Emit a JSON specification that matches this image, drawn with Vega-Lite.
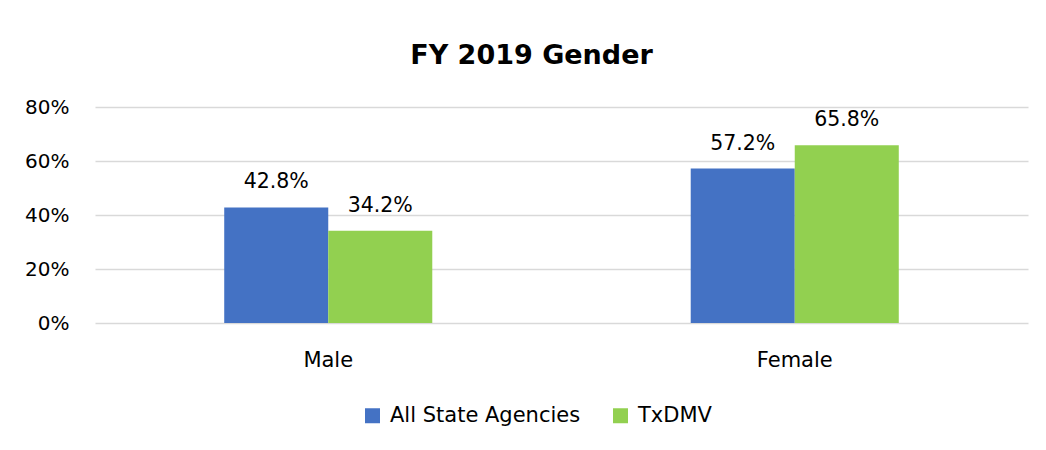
{
  "$schema": "https://vega.github.io/schema/vega-lite/v6.json",
  "autosize": {"type": "none"},
  "width": 933,
  "height": 216,
  "padding": {"left": 95, "top": 107, "right": 18, "bottom": 127},
  "background": "white",
  "title": {
    "text": "FY 2019 Gender",
    "font": "DejaVu Sans",
    "fontSize": 27,
    "fontWeight": "bold",
    "color": "#000000",
    "anchor": "middle",
    "dx": -30,
    "baseline": "alphabetic",
    "offset": 6
  },
  "data": {
    "values": [
      {"gender": "Male", "group": "All State Agencies", "pct": 0.428},
      {"gender": "Male", "group": "TxDMV", "pct": 0.342},
      {"gender": "Female", "group": "All State Agencies", "pct": 0.572},
      {"gender": "Female", "group": "TxDMV", "pct": 0.658}
    ]
  },
  "encoding": {
    "x": {
      "field": "gender",
      "type": "nominal",
      "sort": ["Male", "Female"],
      "scale": {"paddingInner": 0.554, "paddingOuter": 0.277},
      "axis": {
        "title": null,
        "labelAngle": 0,
        "domain": false,
        "ticks": false,
        "labelFont": "DejaVu Sans",
        "labelFontSize": 21,
        "labelColor": "#000000",
        "labelPadding": 26
      }
    },
    "xOffset": {
      "field": "group",
      "type": "nominal",
      "sort": ["All State Agencies", "TxDMV"],
      "scale": {"paddingInner": 0, "paddingOuter": 0}
    },
    "y": {
      "field": "pct",
      "type": "quantitative",
      "scale": {"domain": [0, 0.8], "nice": false},
      "axis": {
        "title": null,
        "values": [0, 0.2, 0.4, 0.6, 0.8],
        "format": ".0%",
        "domain": false,
        "ticks": false,
        "grid": true,
        "gridColor": "#D9D9D9",
        "gridWidth": 1.3,
        "labelFont": "DejaVu Sans",
        "labelFontSize": 20,
        "labelColor": "#000000",
        "labelPadding": 26
      }
    }
  },
  "layer": [
    {
      "mark": {"type": "bar"},
      "encoding": {
        "color": {
          "field": "group",
          "type": "nominal",
          "sort": ["All State Agencies", "TxDMV"],
          "scale": {"domain": ["All State Agencies", "TxDMV"], "range": ["#4472C4", "#92D050"]},
          "legend": {
            "title": null,
            "orient": "none",
            "direction": "horizontal",
            "legendX": 267,
            "legendY": 298,
            "symbolType": "square",
            "symbolSize": 225,
            "symbolStrokeWidth": 0,
            "labelFont": "DejaVu Sans",
            "labelFontSize": 21,
            "labelColor": "#000000",
            "labelOffset": 7,
            "labelLimit": 0,
            "columnPadding": 29
          }
        }
      }
    },
    {
      "mark": {
        "type": "text",
        "baseline": "alphabetic",
        "dy": -19,
        "font": "DejaVu Sans",
        "fontSize": 20.5,
        "color": "#000000"
      },
      "encoding": {
        "text": {"field": "pct", "type": "quantitative", "format": ".1%"}
      }
    }
  ],
  "config": {
    "view": {"stroke": null}
  }
}
